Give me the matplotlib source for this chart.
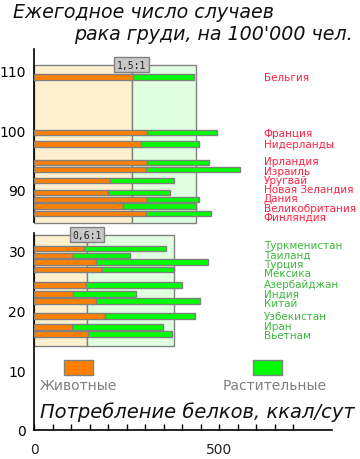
import matplotlib
matplotlib.use("Agg")
import matplotlib.pyplot as plt
from matplotlib.patches import Rectangle

plt.rcParams['font.family'] = ['DejaVu Sans']

# ---- data ----
high_countries = ["Бельгия", "Франция", "Нидерланды", "Ирландия", "Израиль", "Уругвай",
                  "Новая Зеландия", "Дания", "Великобритания", "Финляндия"]
high_incidence = [108.9, 99.6, 97.7, 94.6, 93.4, 91.6, 89.6, 88.4, 87.3, 86.1]
high_animal = [268, 305, 289, 305, 303, 204, 198, 305, 241, 303]
high_plant = [163, 190, 155, 168, 252, 173, 170, 139, 195, 175]

low_countries = ["Туркменистан", "Таиланд", "Турция", "Мексика", "Азербайджан", "Индия",
                 "Китай", "Узбекистан", "Иран", "Вьетнам"]
low_incidence = [30.4, 29.25, 28.1, 26.9, 24.25, 22.8, 21.6, 19.1, 17.25, 16.1]
low_animal = [135, 105, 166, 184, 141, 105, 168, 192, 103, 144]
low_plant = [220, 153, 303, 194, 257, 169, 279, 242, 244, 229]

# group averages (background rectangles)
avg_animal = [263, 142]
avg_plant = [173, 236]
group_span = [(84.5, 111.0), (14.0, 32.7)]

y_ticks_high = [90, 100, 110]
y_ticks_low = [0, 10, 20, 30]
x_ticks = [0, 500]

ORANGE = "#FF8000"
GREEN = "#00FF00"
EDGE = "#808080"
LIGHT_OR = "#FFF0D0"
LIGHT_GR = "#E0FFE0"
RED_TXT = "#FF2244"
GRN_TXT = "#3CB83C"

W, H = 360, 460
fig = plt.figure(figsize=(W / 100, H / 100), dpi=100)

def rect_px(x0, ytop, x1, ybot):
    return [x0 / W, 1 - ybot / H, (x1 - x0) / W, (ybot - ytop) / H]

ax_lo = fig.add_axes(rect_px(34.3, 234, 331.7, 431))
ax_hi = fig.add_axes(rect_px(34.3, 50, 331.7, 223))
ppu = 5.97
ax_lo.set_ylim(0, (431 - 234) / ppu)
ax_hi.set_ylim(90 - (223 - 191) / ppu, 90 + (191 - 50) / ppu)
XMAX = 804
for ax in (ax_lo, ax_hi):
    ax.set_xlim(0, XMAX)
    ax.set_facecolor("none")
    for s in ("top", "right"):
        ax.spines[s].set_visible(False)
    ax.spines["left"].set_linewidth(1.2)
    ax.tick_params(axis="y", length=0, labelsize=10, pad=6)

ax_hi.spines["bottom"].set_visible(False)
ax_hi.set_xticks([])
ax_hi.set_yticks(y_ticks_high)
ax_lo.set_yticks(y_ticks_low)
ax_lo.spines["bottom"].set_linewidth(1.2)
ax_lo.set_xticks(x_ticks)
ax_lo.set_xticks(list(range(50, 701, 50)), minor=True)
ax_lo.tick_params(axis="x", which="both", direction="in", length=4.5, width=1,
                  labelsize=10, pad=9, labelcolor="#222222")


def spread(vals, gap):
    pos = list(vals)
    for _ in range(300):
        moved = False
        for i in range(len(pos) - 1):
            d = pos[i] - pos[i + 1]
            if d < gap:
                delta = (gap - d) / 2
                pos[i] += delta
                pos[i + 1] -= delta
                moved = True
        if not moved:
            break
    return pos


def draw_group(ax, names, inc, animal, plant, gi, txtcol):
    y0, y1 = group_span[gi]
    a, p = avg_animal[gi], avg_plant[gi]
    ax.add_patch(Rectangle((0, y0), a, y1 - y0, facecolor=LIGHT_OR, edgecolor=EDGE,
                           linewidth=1, zorder=1, clip_on=False))
    ax.add_patch(Rectangle((a, y0), p, y1 - y0, facecolor=LIGHT_GR, edgecolor=EDGE,
                           linewidth=1, zorder=1, clip_on=False))
    ratio = a / p
    ax.text(a, y1, f"{ratio:.1f}:1".replace(".", ","), ha="center", va="center",
            fontsize=7, family="DejaVu Sans Mono", color="#222222", zorder=5,
            bbox=dict(boxstyle="square,pad=0.25", facecolor="#C8C8C8", edgecolor=EDGE, lw=1),
            clip_on=False)
    ax.barh(inc, animal, height=0.92, left=0, color=ORANGE, edgecolor=EDGE, linewidth=1, zorder=3)
    ax.barh(inc, plant, height=0.92, left=animal, color=GREEN, edgecolor=EDGE, linewidth=1, zorder=3)
    lab_y = spread(inc, 1.55)
    for n, y in zip(names, lab_y):
        ax.text(620, y, n, ha="left", va="center", fontsize=7.5, color=txtcol, zorder=4)


draw_group(ax_hi, high_countries, high_incidence, high_animal, high_plant, 0, RED_TXT)
draw_group(ax_lo, low_countries, low_incidence, low_animal, low_plant, 1, GRN_TXT)

# legend
ax_lo.add_patch(Rectangle((81, 9.2), 79, 2.5, facecolor=ORANGE, edgecolor=EDGE, linewidth=1, zorder=3))
ax_lo.add_patch(Rectangle((592, 9.2), 78, 2.5, facecolor=GREEN, edgecolor=EDGE, linewidth=1, zorder=3))
ax_lo.text(120.5, 7.6, "Животные", ha="center", va="center", fontsize=10, color="#808080")
ax_lo.text(650, 7.6, "Растительные", ha="center", va="center", fontsize=10, color="#808080")

ax_lo.text(15, 3.2, "Потребление белков, ккал/сут", ha="left", va="center",
           fontsize=14, style="italic", color="#111111")

fig.text(12.7 / W, 1 - 13 / H, "Ежегодное число случаев", ha="left", va="center",
         fontsize=13.7, style="italic", color="#111111")
fig.text(352.7 / W, 1 - 34 / H, "рака груди, на 100'000 чел.", ha="right", va="center",
         fontsize=13.7, style="italic", color="#111111")

fig.savefig("out.png", dpi=100)
